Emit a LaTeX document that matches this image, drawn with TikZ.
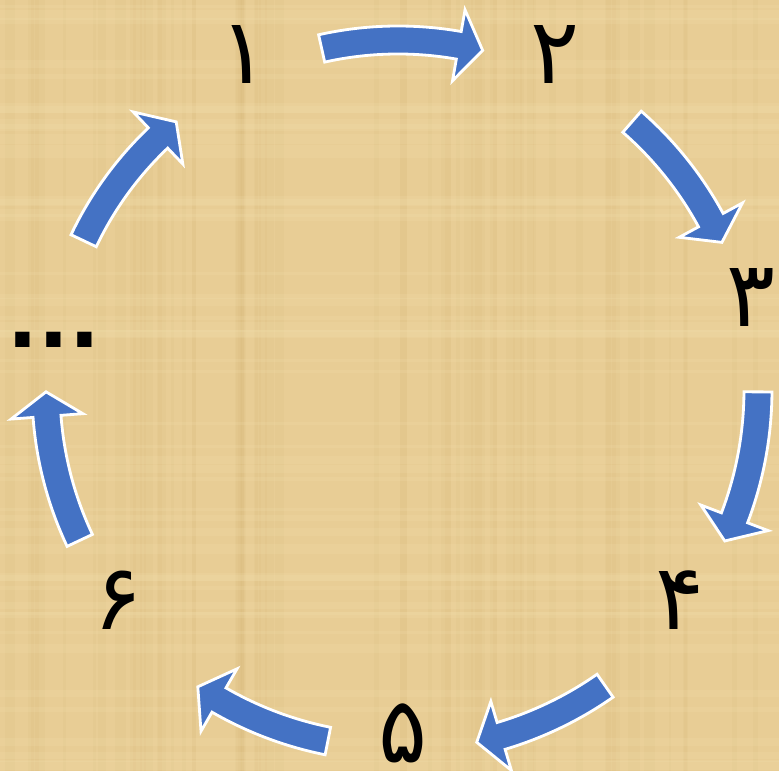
\documentclass[tikz,border=0pt]{standalone}
\usepackage{fontspec}
\newfontfamily\digitfont[Script=Arabic]{DejaVu Sans}
\usetikzlibrary{calc}
\definecolor{papyrus}{HTML}{E8CD95}
\definecolor{papyrusDark}{HTML}{C9A866}
\definecolor{papyrusLight}{HTML}{F4E2B0}
\definecolor{flowBlue}{HTML}{4472C4}

\begin{document}
\begin{tikzpicture}[
    x=0.02cm, y=0.02cm,
    num/.style={font=\digitfont\fontsize{52}{52}\selectfont, inner sep=0pt},
    dots/.style={font=\digitfont\bfseries\fontsize{46}{46}\selectfont, inner sep=0pt, anchor=base},
    flow/.style={fill=flowBlue, draw=white, line width=1.6pt, line join=miter},
]
    % papyrus background
    \fill[papyrus] (0,0) rectangle (779,771);
    \pgfmathsetseed{11}
    \foreach \i in {1,...,60} {
        \pgfmathsetmacro{\px}{rnd*779}
        \pgfmathsetmacro{\pw}{2+rnd*10}
        \fill[papyrusDark, opacity=0.07] (\px,0) rectangle ++(\pw,771);
    }
    \foreach \i in {1,...,50} {
        \pgfmathsetmacro{\py}{rnd*771}
        \pgfmathsetmacro{\ph}{2+rnd*8}
        \fill[papyrusLight, opacity=0.18] (0,\py) rectangle ++(779,\ph);
    }
    \useasboundingbox (0,0) rectangle (779,771);

    \coordinate (ctr) at (398,381);

    % numbers round the circle
    \node[num] (one)   at (244,716) {۱};
    \node[num] (two)   at (555,716) {۲};
    \node[num] (three) at (751,473) {۳};
    \node[num] (four)  at (680,171) {۴};
    \node[num, text depth=0pt, anchor=base] (five) at (403,8) {۵};
    \node[num] (six)   at (118,171) {۶};
    \node[dots] (more) at (54,423) {...};

    % curved block arrows: radius / tail angle / tip angle
    \foreach \rad/\ta/\tp in {350/102.6/76.0, 356/48.9/24.5, 360/-0.3/-24.8,
                              361/-55.0/-77.4, 358/258.7/236.0, 352/205.3/180.3,
                              348/154.6/129.6} {
        \pgfmathsetmacro{\hb}{\tp+4}
        \pgfmathsetmacro{\ro}{\rad+14}
        \pgfmathsetmacro{\ri}{\rad-14}
        \pgfmathsetmacro{\rh}{\rad+36}
        \pgfmathsetmacro{\rl}{\rad-36}
        \draw[flow] ($(ctr)+(\ta:\ro)$) arc[start angle=\ta, end angle=\hb, radius=\ro]
            -- ($(ctr)+(\hb:\rh)$) -- ($(ctr)+(\tp:\rad)$) -- ($(ctr)+(\hb:\rl)$)
            -- ($(ctr)+(\hb:\ri)$) arc[start angle=\hb, end angle=\ta, radius=\ri] -- cycle;
    }
\end{tikzpicture}
\end{document}
